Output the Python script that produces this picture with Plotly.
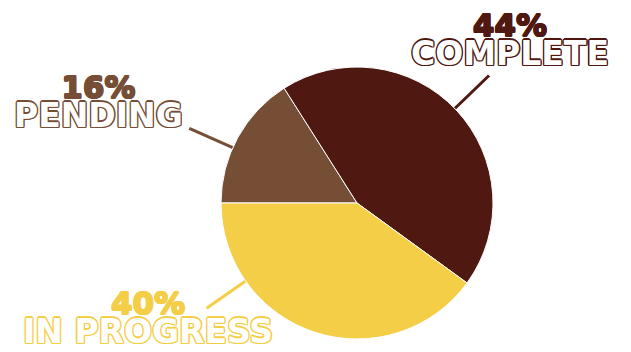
import math
import plotly.graph_objects as go

# ---- data ----
labels = ["PENDING", "COMPLETE", "IN PROGRESS"]
values = [16, 44, 40]
colors = ["#764E36", "#4F1811", "#F5CE48"]

W, H = 631, 352
# pie placement (pixels)
cx, cy, r = 357, 203, 136
rotation = 270  # first slice starts at 9 o'clock, clockwise

# label layout: leader angle (deg, math convention) and text block centre (px)
leader_angle = {"PENDING": 156, "COMPLETE": 44, "IN PROGRESS": -145}
text_pos = {"PENDING": (98, 102), "COMPLETE": (510, 40), "IN PROGRESS": (148, 318)}

def px(x):
    return x / W

def py(y):
    return 1 - y / H

fig = go.Figure(go.Pie(
    labels=labels, values=values, sort=False, direction="clockwise",
    rotation=rotation, marker=dict(colors=colors, line=dict(color="white", width=1)),
    textinfo="none", hoverinfo="label+percent", showlegend=False,
    domain=dict(x=[px(cx - r), px(cx + r)], y=[py(cy + r), py(cy - r)]),
))

def outline(c, w):
    return ", ".join(f"{dx * w}px {dy * w}px 0 {c}" for dx, dy in
                     [(1, 0), (-1, 0), (0, 1), (0, -1),
                      (0.8, 0.8), (-0.8, -0.8), (0.8, -0.8), (-0.8, 0.8)])

total = sum(values)
shapes, annotations = [], []
for lab, v, c in zip(labels, values, colors):
    t = math.radians(leader_angle[lab])
    x0, y0 = cx + r * math.cos(t), cy - r * math.sin(t)
    x1, y1 = cx + 1.35 * r * math.cos(t), cy - 1.35 * r * math.sin(t)
    shapes.append(dict(type="line", xref="paper", yref="paper",
                       x0=px(x0), y0=py(y0), x1=px(x1), y1=py(y1),
                       line=dict(color=c, width=3), layer="below"))
    tx, ty = text_pos[lab]
    pct = f"{round(v / total * 100)}%"
    text = (f"<span style='font-size:31px;color:{c};text-shadow:{outline(c, 0.7)}'>{pct}</span>"
            f"<br><span style='font-size:33px'>{lab}</span>")
    annotations.append(dict(
        text=text, x=px(tx), y=py(ty), xref="paper", yref="paper",
        xanchor="center", yanchor="middle", showarrow=False,
        font=dict(family="DejaVu Sans", size=22, color="white", weight="bold",
                  shadow=outline(c, 1.3))))

fig.update_layout(
    width=W, height=H, margin=dict(l=0, r=0, t=0, b=0),
    paper_bgcolor="white", plot_bgcolor="white",
    shapes=shapes, annotations=annotations,
)
fig.write_html("out.html")
